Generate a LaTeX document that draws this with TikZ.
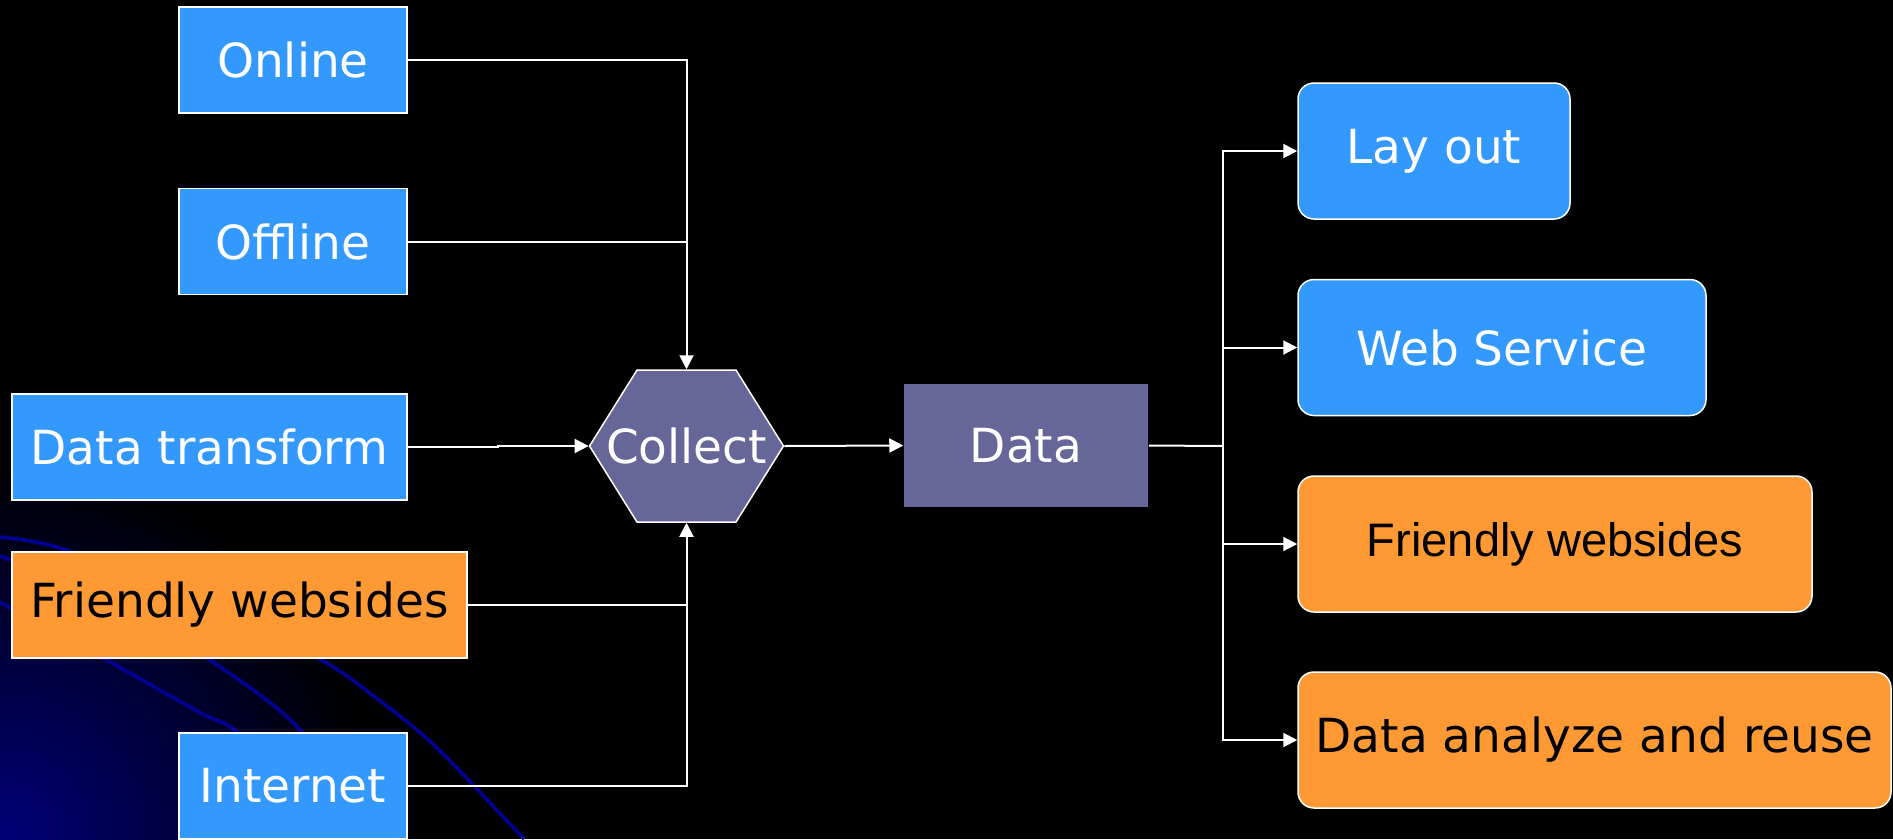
\documentclass[tikz,border=0pt]{standalone}
\usepackage{fontspec}
\setmainfont{DejaVu Sans}
\newfontfamily\arialfont{Liberation Sans}
\usepackage{tikz}
\usetikzlibrary{shapes.symbols,arrows.meta}
\definecolor{srcblue}{RGB}{51,153,255}
\definecolor{srcorange}{RGB}{255,153,51}
\definecolor{hexpurple}{RGB}{102,102,153}
\definecolor{curveblue}{RGB}{0,0,150}
\definecolor{glowblue}{RGB}{0,0,120}
\tikzset{%
  plainbox/.style={draw=white,line width=1.5pt,inner sep=0,font=\fontsize{47}{52}\selectfont},
  bluebox/.style={plainbox,fill=srcblue,text=white},
  orangebox/.style={plainbox,fill=srcorange,text=black},
  sinkbox/.style={rounded corners=16pt,minimum height=136pt},
  hexbox/.style={plainbox,shape=signal,signal to=west and east,fill=hexpurple,text=white},
  feed/.style={draw=white,line width=2pt},
  tofeed/.style={feed,-{Triangle[length=14pt,width=14pt]}},
  bgcurve/.style={draw=curveblue,line width=3.5pt}
}

\begin{document}
\begin{tikzpicture}[x=1pt,y=-1pt]
  \useasboundingbox (0,0) rectangle (1893,839);
  \clip (0,0) rectangle (1893,839);
  \fill[black] (0,0) rectangle (1893,839);
  % glow and curves in the corner
  \shade[inner color=glowblue,outer color=black] (0,839) circle (380);
  \draw[bgcurve] plot[smooth] coordinates {(0,537) (60,548) (190,597) (318,658) (375,697) (436,747) (524,839)};
  \draw[bgcurve] plot[smooth] coordinates {(0,556) (110,600) (207,658) (302,732) (360,839)};
  \draw[bgcurve] plot[smooth] coordinates {(0,602) (103,658) (199,712) (237,732) (300,800) (330,839)};

  % sources
  \path
    (293,60) node (online)[bluebox,minimum width=228pt,minimum height=106pt]{Online}
    (293,241.5) node (offline)[bluebox,minimum width=228pt,minimum height=106pt]{Offline}
    (209.5,447) node (dtrans)[bluebox,minimum width=395pt,minimum height=106pt]{Data transform}
    (239.5,605) node (friendin)[orangebox,minimum width=455pt,minimum height=106pt]{Friendly websides}
    (293,786) node (internet)[bluebox,minimum width=228pt,minimum height=106pt]{Internet};

  % middle
  \path
    (686.5,446) node (collect)[hexbox,minimum height=152pt,signal pointer angle=116]{\makebox[99pt]{Collect}}
    (1026,445.5) node (data)[plainbox,draw=none,fill=hexpurple,text=white,minimum width=244pt,minimum height=123pt]{Data};

  % targets
  \path
    (1434,151) node (layout)[bluebox,sinkbox,minimum width=272pt]{Lay out}
    (1502,347.5) node (websrv)[bluebox,sinkbox,minimum width=408pt]{Web Service}
    (1555,544) node (friendout)[orangebox,sinkbox,minimum width=514pt,font=\arialfont\fontsize{47}{52}\selectfont]{Friendly websides}
    (1594.5,740) node (reuse)[orangebox,sinkbox,minimum width=593pt]{Data analyze and reuse};

  \draw[tofeed] (online.east) -| (collect.north);
  \draw[feed] (offline.east) -- (offline.east -| collect.north);
  \draw[tofeed] (dtrans.east) -- ++(90,0) |- (collect.west);
  \draw[feed] (friendin.east) -- (friendin.east -| collect.south);
  \draw[tofeed] (internet.east) -| (collect.south);
  \draw[tofeed] (collect.east) -- (data.west);

  \coordinate (split) at (1223,446);
  \draw[feed] (data.east) -- (split);
  \draw[tofeed] (split) |- (layout.west);
  \draw[tofeed] (split) |- (websrv.west);
  \draw[tofeed] (split) |- (friendout.west);
  \draw[tofeed] (split) |- (reuse.west);
\end{tikzpicture}
\end{document}
